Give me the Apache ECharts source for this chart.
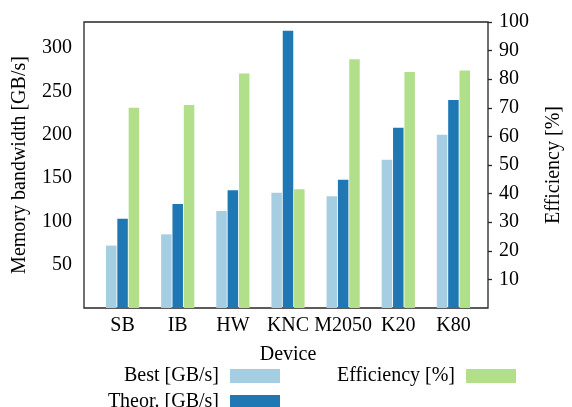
<!DOCTYPE html>
<html><head><meta charset="utf-8">
<script src="https://cdn.jsdelivr.net/npm/echarts@6/dist/echarts.min.js"></script>
<style>html,body{margin:0;padding:0;background:#fff}#c{width:572px;height:407px}</style>
</head><body><div id="c"></div>
<script>
const categories = ['SB', 'IB', 'HW', 'KNC', 'M2050', 'K20', 'K80'];
const bestGBs = [72, 85, 112, 133, 129, 171, 200];
const theorGBs = [103, 120, 136, 320, 148, 208, 240];
const efficiencyPct = [70, 71, 82, 41.5, 87, 82.5, 83];
const seriesNames = ['Best [GB/s]', 'Theor. [GB/s]', 'Efficiency [%]'];
const axisNames = { x: 'Device', left: 'Memory bandwidth [GB/s]', right: 'Efficiency [%]' };

const FONT = 'Liberation Serif';
const FS = 20;
const colors = ['#a6cee3', '#1f78b4', '#b2df8a'];
const chart = echarts.init(document.getElementById('c'), null, { renderer: 'canvas' });
const txt = { fontFamily: FONT, fontSize: FS, color: '#000' };
const TOP = 22, BOTTOM = 99;

function legendItem(name, right, top) {
  return { data: [name], orient: 'horizontal', right: right, top: top, align: 'right', itemWidth: 50, itemHeight: 14, icon: 'rect', padding: 0,
    textStyle: { fontFamily: FONT, fontSize: FS, color: '#000', padding: [0, 6, 0, 0] } };
}

chart.setOption({
  animation: false,
  textStyle: { fontFamily: FONT },
  grid: [
    { left: 84, right: 74, top: TOP, bottom: BOTTOM, show: true, borderColor: '#262626', borderWidth: 1.3, backgroundColor: 'transparent' },
    { left: 95, right: 91, top: TOP, bottom: BOTTOM, show: false }
  ],
  legend: [
    legendItem(seriesNames[0], 292, 366),
    legendItem(seriesNames[1], 292, 392),
    legendItem(seriesNames[2], 56, 366)
  ],
  xAxis: [
    { type: 'category', gridIndex: 0, data: categories, show: false },
    { type: 'category', gridIndex: 1, data: categories,
      axisLine: { show: false }, axisTick: { show: false },
      axisLabel: Object.assign({ margin: 8, interval: 0 }, txt),
      name: axisNames.x, nameLocation: 'middle', nameGap: 37, nameTextStyle: txt }
  ],
  yAxis: [
    { type: 'value', gridIndex: 0, position: 'left', min: 0, max: 330, interval: 50,
      axisLine: { show: false }, axisTick: { show: false }, splitLine: { show: false },
      axisLabel: Object.assign({ margin: 12, showMinLabel: false, showMaxLabel: false }, txt),
      name: axisNames.left, nameLocation: 'middle', nameGap: 54, nameRotate: 90, nameTextStyle: txt },
    { type: 'value', gridIndex: 0, position: 'right', min: 0, max: 100, interval: 10,
      axisLine: { show: false }, axisTick: { show: true, length: 4, lineStyle: { color: '#262626', width: 1.3 } }, splitLine: { show: false },
      axisLabel: Object.assign({ margin: 11, showMinLabel: false }, txt),
      name: axisNames.right, nameLocation: 'middle', nameGap: 56, nameRotate: 90, nameTextStyle: txt },
    { type: 'value', gridIndex: 1, min: 0, max: 330, show: false },
    { type: 'value', gridIndex: 1, min: 0, max: 100, show: false }
  ],
  series: [
    { name: seriesNames[0], type: 'bar', xAxisIndex: 1, yAxisIndex: 2, data: bestGBs, barWidth: 10.5, barGap: '8%', itemStyle: { color: colors[0] } },
    { name: seriesNames[1], type: 'bar', xAxisIndex: 1, yAxisIndex: 2, data: theorGBs, barWidth: 10.5, barGap: '8%', itemStyle: { color: colors[1] } },
    { name: seriesNames[2], type: 'bar', xAxisIndex: 1, yAxisIndex: 3, data: efficiencyPct, barWidth: 10.5, barGap: '8%', itemStyle: { color: colors[2] } }
  ]
});
</script></body></html>
